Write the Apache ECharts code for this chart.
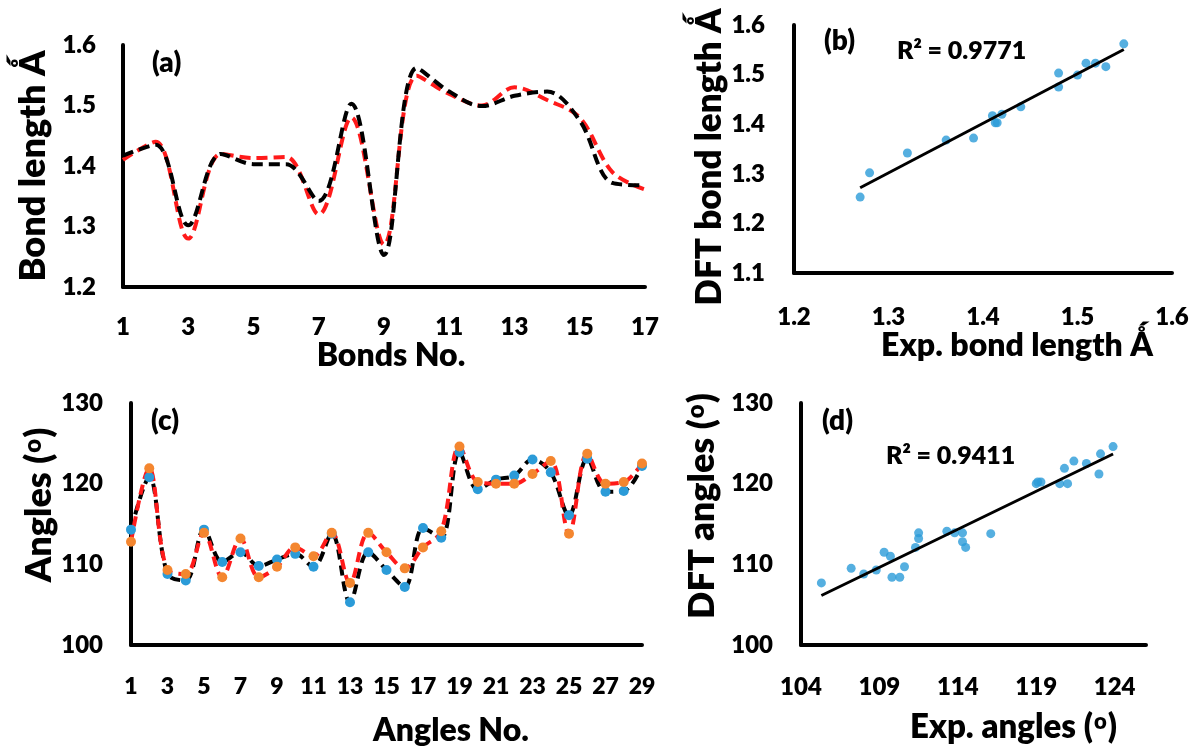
<!DOCTYPE html>
<html>
<head>
<meta charset="utf-8">
<script src="https://cdn.jsdelivr.net/npm/echarts@6/dist/echarts.min.js"></script>
<style>html,body{margin:0;padding:0;background:#fff;}#c{width:1192px;height:747px;}</style>
</head>
<body>
<div id="c"></div>
<script>
// ---- data ----
const bondNo = ['1','2','3','4','5','6','7','8','9','10','11','12','13','14','15','16','17'];
const bondExp = [1.410,1.440,1.280,1.420,1.413,1.415,1.320,1.480,1.270,1.549,1.519,1.500,1.530,1.509,1.480,1.390,1.361];
const bondDft = [1.417,1.435,1.302,1.420,1.403,1.403,1.342,1.503,1.253,1.562,1.523,1.499,1.516,1.523,1.475,1.372,1.368];
const angleNo = ['1','2','3','4','5','6','7','8','9','10','11','12','13','14','15','16','17','18','19','20','21','22','23','24','25','26','27','28','29'];
const angleExp = [114.3,120.8,108.8,108.0,114.3,110.3,111.5,109.8,110.6,111.3,109.7,113.8,105.3,111.5,109.3,107.2,114.5,113.3,123.9,119.3,120.5,121.0,123.0,121.4,116.1,123.1,119.0,119.1,122.2];
const angleDft = [112.8,121.9,109.3,108.8,113.9,108.4,113.2,108.4,109.7,112.1,111.0,113.9,107.7,113.9,111.5,109.5,112.1,114.1,124.6,120.2,120.0,120.0,121.2,122.8,113.8,123.7,120.0,120.2,122.5];
const r2Bond = 'R² = 0.9771';
const r2Angle = 'R² = 0.9411';

// ---- helpers ----
function pairs(xs, ys){ return xs.map((x,i)=>[x, ys[i]]); }
function fit(xs, ys){
  const n = xs.length;
  const mx = xs.reduce((a,b)=>a+b,0)/n, my = ys.reduce((a,b)=>a+b,0)/n;
  let sxy=0, sxx=0;
  for(let i=0;i<n;i++){ sxy+=(xs[i]-mx)*(ys[i]-my); sxx+=(xs[i]-mx)*(xs[i]-mx); }
  const b = sxy/sxx, a = my - b*mx;
  const x0 = Math.min(...xs), x1 = Math.max(...xs);
  return [[x0, a+b*x0],[x1, a+b*x1]];
}

const FONT = 'Lato, "Noto Sans", sans-serif';
const W = 800;
const BLUE = '#2B9BD8', ORANGE = '#F4862F', RED = '#FF1A1A';
const SMOOTH = 0.35;

function axisBase(){
  return {
    axisLine:{show:true, onZero:false, lineStyle:{color:'#000', width:4}},
    axisTick:{show:false},
    splitLine:{show:false},
  };
}
function lbl(size, margin, fmt){
  const o = {color:'#000', fontFamily:FONT, fontWeight:W, fontSize:size, margin:margin};
  if (fmt) o.formatter = fmt;
  return o;
}
function nameStyle(size, padding){
  return {color:'#000', fontFamily:FONT, fontWeight:W, fontSize:size, padding:padding,
    rich:{sup:{fontFamily:FONT, fontWeight:W, fontSize:Math.round(size*0.66), verticalAlign:'top', padding:[0,1,0,1]}}};
}
const f1 = v => Number(v).toFixed(1);

const chart = echarts.init(document.getElementById('c'));
chart.setOption({
  backgroundColor:'#fff',
  animation:false,
  grid:[
    {left:123, top:45, width:522, height:242, outerBoundsMode:'none'},
    {left:794, top:25, width:378, height:248, outerBoundsMode:'none'},
    {left:131, top:403, width:511, height:242, outerBoundsMode:'none'},
    {left:801, top:403, width:345, height:242, outerBoundsMode:'none'}
  ],
  xAxis:[
    Object.assign(axisBase(), {gridIndex:0, type:'category', data:bondNo, boundaryGap:false,
      axisLabel:Object.assign(lbl(24,28),{interval:1}),
      name:'Bonds No.', nameLocation:'middle', nameGap:53, nameTextStyle:nameStyle(32,[0,0,0,14])}),
    Object.assign(axisBase(), {gridIndex:1, type:'value', min:1.2, max:1.6, interval:0.1,
      axisLabel:lbl(24,32,f1),
      name:'Exp. bond length Ǻ', nameLocation:'middle', nameGap:57, nameTextStyle:nameStyle(32,[0,0,0,68])}),
    Object.assign(axisBase(), {gridIndex:2, type:'category', data:angleNo, boundaryGap:false,
      axisLabel:Object.assign(lbl(23,30),{interval:1}),
      name:'Angles No.', nameLocation:'middle', nameGap:70, nameTextStyle:nameStyle(32,[0,0,0,129])}),
    Object.assign(axisBase(), {gridIndex:3, type:'value', min:104, max:126, interval:5,
      axisLabel:Object.assign(lbl(24,30),{showMaxLabel:false}),
      name:'Exp. angles ({sup|o})', nameLocation:'middle', nameGap:66, nameTextStyle:nameStyle(33,[0,0,0,80])})
  ],
  yAxis:[
    Object.assign(axisBase(), {gridIndex:0, type:'value', min:1.2, max:1.6, interval:0.1,
      axisLabel:lbl(24,27,f1),
      name:'Bond length Ǻ', nameLocation:'middle', nameGap:72, nameTextStyle:nameStyle(36,[0,0,0,0])}),
    Object.assign(axisBase(), {gridIndex:1, type:'value', min:1.1, max:1.6, interval:0.1,
      axisLabel:lbl(24,29,f1),
      name:'DFT bond length Ǻ', nameLocation:'middle', nameGap:66, nameTextStyle:nameStyle(35,[0,16,0,0])}),
    Object.assign(axisBase(), {gridIndex:2, type:'value', min:100, max:130, interval:10,
      axisLabel:lbl(24,28),
      name:'Angles ({sup|o})', nameLocation:'middle', nameGap:74, nameTextStyle:nameStyle(36,[0,0,0,38])}),
    Object.assign(axisBase(), {gridIndex:3, type:'value', min:100, max:130, interval:10,
      axisLabel:lbl(24,28),
      name:'DFT angles ({sup|o})', nameLocation:'middle', nameGap:81, nameTextStyle:nameStyle(36,[0,0,0,36])})
  ],
  series:[
    {type:'line', xAxisIndex:0, yAxisIndex:0, data:bondExp, smooth:SMOOTH, symbol:'none',
      lineStyle:{color:RED, width:4, type:[11,6]}},
    {type:'line', xAxisIndex:0, yAxisIndex:0, data:bondDft, smooth:SMOOTH, symbol:'none',
      lineStyle:{color:'#000', width:4, type:[11,6]}},
    {type:'scatter', xAxisIndex:1, yAxisIndex:1, data:pairs(bondExp,bondDft), symbolSize:9,
      itemStyle:{color:BLUE}, z:3},
    {type:'line', xAxisIndex:1, yAxisIndex:1, data:fit(bondExp,bondDft), symbol:'none',
      lineStyle:{color:'#000', width:3}, z:4},
    {type:'line', xAxisIndex:2, yAxisIndex:2, data:angleExp, smooth:SMOOTH, symbol:'circle', symbolSize:10, showSymbol:true,
      itemStyle:{color:BLUE}, lineStyle:{color:'#000', width:4, type:[10,6]}},
    {type:'line', xAxisIndex:2, yAxisIndex:2, data:angleDft, smooth:SMOOTH, symbol:'circle', symbolSize:10, showSymbol:true,
      itemStyle:{color:ORANGE}, lineStyle:{color:RED, width:4, type:[10,6]}},
    {type:'scatter', xAxisIndex:3, yAxisIndex:3, data:pairs(angleExp,angleDft), symbolSize:9,
      itemStyle:{color:BLUE}, z:3},
    {type:'line', xAxisIndex:3, yAxisIndex:3, data:fit(angleExp,angleDft), symbol:'none',
      lineStyle:{color:'#000', width:3}, z:4}
  ],
  graphic:[
    {type:'text', left:152, top:49, style:{text:'(a)', font:W+' 28px '+FONT, fill:'#000'}},
    {type:'text', left:824, top:27, style:{text:'(b)', font:W+' 28px '+FONT, fill:'#000'}},
    {type:'text', left:151, top:407, style:{text:'(c)', font:W+' 28px '+FONT, fill:'#000'}},
    {type:'text', left:822, top:407, style:{text:'(d)', font:W+' 28px '+FONT, fill:'#000'}},
    {type:'text', left:897, top:38, style:{text:r2Bond, font:W+' 25px '+FONT, fill:'#000'}},
    {type:'text', left:886, top:443, style:{text:r2Angle, font:W+' 25px '+FONT, fill:'#000'}}
  ]
});
</script>
</body>
</html>
